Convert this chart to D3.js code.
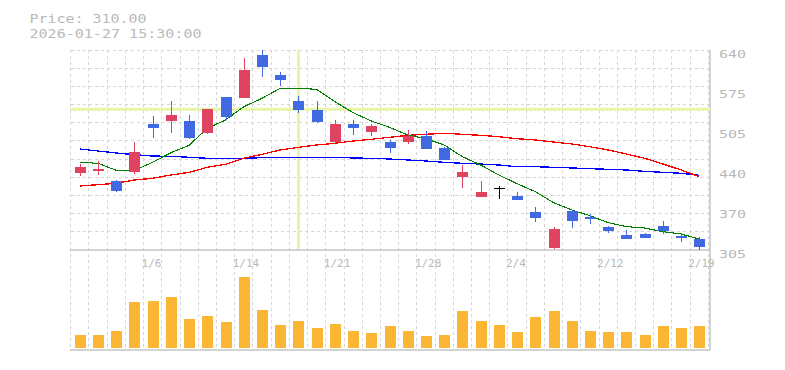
<!DOCTYPE html>
<html>
<head>
<meta charset="utf-8">
<script src="https://cdn.jsdelivr.net/npm/d3@7"></script>
<style>
  html, body { margin: 0; padding: 0; background: #fff; }
  svg { display: block; }
</style>
</head>
<body>
<div id="chart"></div>
<script>
// ---- data ----
const dates = ["12/26","12/29","12/30","1/5","1/6","1/7","1/8","1/9","1/13","1/14","1/15","1/16","1/19","1/20","1/21","1/22","1/23","1/26","1/27","1/28","1/29","1/30","2/2","2/3","2/4","2/5","2/6","2/9","2/10","2/12","2/13","2/16","2/17","2/18","2/19"];
const openP  = [434.5,438,420.5,436,516,521.5,521,501.5,561,560,631.5,598,554.5,539.5,486.5,516,503,486,486.5,496,476,428,394.5,407.7,396,368.5,309,370,361,343.5,330,331.8,345,329,323.4];
const closeP = [444,441,404.5,469,510,531,493,541,528,606.5,612,590,540,520,516,510,512.7,476,496.5,475,456,435.7,402,407.7,389.3,359,340,354,357.4,337.4,324,325.6,337,325.6,310];
const highP  = [449,454,422,486,529.5,554.5,531,541.5,561.5,627,640,603,563,554.5,523,523,516.6,489,506,504,477,447.4,420.6,412.7,402.7,377,343,372.5,365,345.7,338.5,334,353.6,333.5,327.3];
const lowP   = [429.5,430,402,433,493,501.5,491,499,523,560,595,580,535,518,485,498,496.5,468,483,475,456,409.4,394.3,391,389.3,352.4,307,342.4,349,334,324,325.6,332,319,305];
const volume = [130,130,170,460,470,510,290,320,260,710,380,230,270,200,240,170,150,220,170,120,130,370,270,230,160,310,370,270,170,160,160,130,220,200,220];
const maShort = [451.9,450.2,438.5,438.5,451.9,468.0,480.4,508.9,522.8,545.0,559.1,575.8,575.8,574.2,553.4,535.0,521.1,510.5,497.6,491.4,480.9,461.3,447.4,430.6,416.1,402.7,384.3,372.0,362.5,350.8,344.1,341.9,335.7,331.8,323.4];
const maMid   = [412.2,414.4,416.7,422.3,425.1,430.6,435.1,443.5,448.5,458.6,465.3,472.5,477.0,480.9,483.7,487.6,490.4,493.8,497.1,498.8,500.5,498.8,497.1,494.8,491.4,489.3,485.9,482.6,478.0,472.5,465.8,458.6,449.1,439.0,427.8];
const maLong  = [474.2,470.8,467.5,464.6,462.4,461.9,460.3,458.6,458.6,458.6,459.6,460.3,460.3,460.3,460.3,459.1,458.6,457.4,455.8,454.1,451.9,450.2,449.0,447.4,444.5,444.5,443.5,442.4,441.2,440.2,439.0,436.8,435.1,433.5,430.1];
const xTickDates  = ["1/6","1/14","1/21","1/28","2/4","2/12","2/19"];
const yTickValues = [640,573,506,439,372,305];
const yTickLabels = ["640","575","505","440","370","305"];
const titleLines  = ["Price: 310.00","2026-01-27 15:30:00"];
const crossDate = "1/19";
const crossPrice = 540.7;
const priceMin = 305, priceMax = 640, volMax = 780;

// ---- layout ----
const W = 785, H = 370;
const L = 70.7, R = 708.4, PT = 50, PB = 250, VT = 270, VB = 348, VAX = 350, AXX = 710;
const C = { up: "#e0435f", down: "#4169e1", doji: "#000", grid: "#d6d6d6", axis: "#c4c4c4", text: "#b9b9b9",
            vol: "#fbb634", cross: "#e6f5a6", short: "#008000", mid: "#ff0000", long: "#0000ff" };

const svg = d3.select("#chart").append("svg").attr("width", W).attr("height", H);

const x = d3.scaleBand().domain(dates).range([L, R]).padding(0);
const y = d3.scaleLinear().domain([priceMin, priceMax]).range([PB, PT]);
const yv = d3.scaleLinear().domain([0, volMax]).range([VB, VT]);
const cx = d => x(d) + x.bandwidth() / 2;
const bw = 11;

// grid
const gGrid = svg.append("g").attr("stroke", C.grid).attr("stroke-dasharray", "3,3").attr("shape-rendering", "crispEdges");
const vLines = dates.map(d => x(d)).concat([R]);
gGrid.selectAll("line.v").data(vLines).join("line")
  .attr("x1", d => d).attr("x2", d => d).attr("y1", PT).attr("y2", VAX);
const hLines = d3.range(11).map(k => PT + k * (PB - PT) / 11);
gGrid.selectAll("line.h").data(hLines).join("line")
  .attr("x1", L).attr("x2", AXX).attr("y1", d => d).attr("y2", d => d);

// axes lines
const gAx = svg.append("g").attr("stroke", C.axis).attr("stroke-width", 1.5);
gAx.append("line").attr("x1", L - 1).attr("x2", AXX).attr("y1", PB).attr("y2", PB);
gAx.append("line").attr("x1", L - 1).attr("x2", AXX).attr("y1", VAX).attr("y2", VAX);
gAx.append("line").attr("x1", AXX).attr("x2", AXX).attr("y1", PT).attr("y2", VAX);

// crosshair
svg.append("line").attr("x1", cx(crossDate)).attr("x2", cx(crossDate)).attr("y1", PT).attr("y2", PB - 1)
  .attr("stroke", C.cross).attr("stroke-width", 3);
svg.append("line").attr("x1", L).attr("x2", AXX).attr("y1", y(crossPrice)).attr("y2", y(crossPrice))
  .attr("stroke", C.cross).attr("stroke-width", 3);

// moving averages
const line = d3.line().x((v, i) => cx(dates[i])).y(v => y(v));
[[maLong, C.long, 1.3], [maMid, C.mid, 1.3], [maShort, C.short, 1.1]].forEach(([arr, col, sw]) => {
  svg.append("path").datum(arr).attr("d", line).attr("fill", "none")
    .attr("stroke", col).attr("stroke-width", sw).attr("shape-rendering", "crispEdges");
});

// candles
const candles = dates.map((d, i) => ({ d, o: openP[i], c: closeP[i], h: highP[i], l: lowP[i] }));
const colOf = k => k.c > k.o ? C.up : (k.c < k.o ? C.down : C.doji);
const gC = svg.append("g").attr("shape-rendering", "crispEdges");
gC.selectAll("line.w").data(candles).join("line")
  .attr("x1", k => Math.round(cx(k.d)) + 0.5).attr("x2", k => Math.round(cx(k.d)) + 0.5)
  .attr("y1", k => y(k.h)).attr("y2", k => y(k.l))
  .attr("stroke", colOf).attr("stroke-width", 1.2);
gC.selectAll("rect.b").data(candles.filter(k => k.c !== k.o)).join("rect")
  .attr("x", k => Math.round(cx(k.d)) - (bw - 1) / 2)
  .attr("width", bw)
  .attr("y", k => y(Math.max(k.o, k.c)))
  .attr("height", k => Math.max(1, Math.abs(y(k.o) - y(k.c))))
  .attr("fill", colOf);
gC.selectAll("line.dj").data(candles.filter(k => k.c === k.o)).join("line")
  .attr("x1", k => Math.round(cx(k.d)) - (bw - 1) / 2).attr("x2", k => Math.round(cx(k.d)) + (bw + 1) / 2)
  .attr("y1", k => y(k.o)).attr("y2", k => y(k.o))
  .attr("stroke", C.doji).attr("stroke-width", 1.2);

// volume
svg.append("g").attr("shape-rendering", "crispEdges").selectAll("rect").data(volume).join("rect")
  .attr("x", (v, i) => Math.round(cx(dates[i])) - (bw - 1) / 2)
  .attr("width", bw)
  .attr("y", v => yv(v))
  .attr("height", v => yv(0) - yv(v))
  .attr("fill", C.vol);

// x tick labels
const mono = "'DejaVu Sans Mono', monospace";
svg.append("g").selectAll("text").data(xTickDates).join("text")
  .attr("x", d => x(d) - 2).attr("y", 266.5)
  .attr("font-family", mono).attr("font-size", 11).attr("fill", C.text)
  .text(d => d);

// y tick labels
svg.append("g").selectAll("text").data(yTickValues).join("text")
  .attr("x", 719).attr("y", v => y(v) + 7.5)
  .attr("font-family", mono).attr("font-size", 11).attr("fill", C.text)
  .attr("textLength", 27).attr("lengthAdjust", "spacingAndGlyphs")
  .text((v, i) => yTickLabels[i]);

// title
const titleLen = [117, 172];
svg.append("g").selectAll("text").data(titleLines).join("text")
  .attr("x", 29.5).attr("y", (d, i) => 22.8 + i * 15)
  .attr("font-family", mono).attr("font-size", 12.8).attr("fill", C.text)
  .attr("textLength", (d, i) => titleLen[i]).attr("lengthAdjust", "spacingAndGlyphs")
  .text(d => d);
</script>
</body>
</html>
